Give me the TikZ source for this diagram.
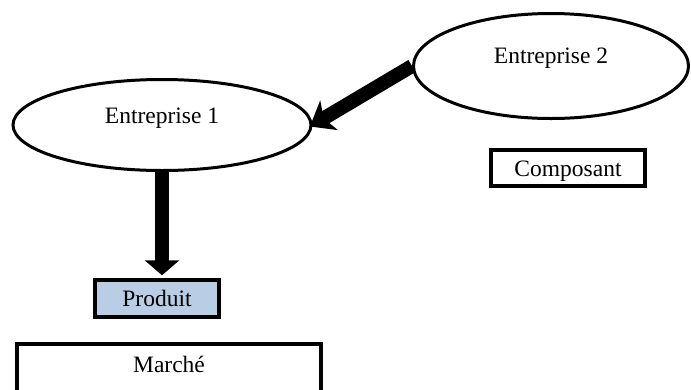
\documentclass[tikz,border=0pt]{standalone}
\usepackage{fontspec}
\setmainfont{Liberation Serif}
\usetikzlibrary{arrows.meta,shapes.geometric}
\definecolor{prodblue}{RGB}{185,205,229}
\tikzset{
  firm/.style={draw, ellipse, line width=3pt, inner sep=0pt, text height=16pt},
  boxnode/.style={draw, rectangle, line width=3.5pt, inner sep=0pt, text height=16pt, text depth=0pt},
  flow/.style={line width=14pt, line cap=butt, draw=black},
}
\begin{document}
\begin{tikzpicture}[x=1pt, y=-1pt, font=\fontsize{23.5}{27}\selectfont]
\useasboundingbox (0,0) rectangle (691,389);
\clip (0,0) rectangle (691,389);

% firms
\node[firm, minimum width=298pt, minimum height=91pt, text depth=20pt] (e1) at (162,125) {Entreprise 1};
\node[firm, minimum width=275pt, minimum height=105pt, text depth=22pt] (e2) at (551,66) {Entreprise 2};

% goods and market
\node[boxnode, minimum width=154pt, minimum height=36pt] (comp) at (568,168) {Composant};
\node[boxnode, fill=prodblue, minimum width=124pt, minimum height=37pt] (prod) at (157,298.5) {Produit};
\node[boxnode, minimum width=304pt, minimum height=56pt, text depth=16pt] (mkt) at (169,372) {Marché};

% flows
\draw[flow, -{Stealth[length=22pt,width=34pt,inset=6pt]}, shorten >=-3pt] (e2.west) -- (e1.east);
\draw[flow, -{Triangle[length=15pt,width=34pt]}, shorten >=3pt] (e1.south) -- (e1.south |- prod.north);
\end{tikzpicture}
\end{document}
